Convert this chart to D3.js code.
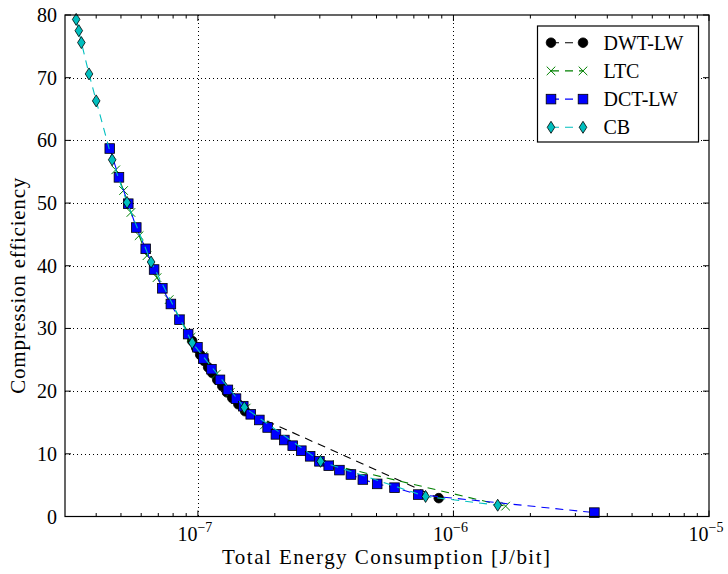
<!DOCTYPE html>
<html>
<head>
<meta charset="utf-8">
<script src="https://cdnjs.cloudflare.com/ajax/libs/d3/7.8.5/d3.min.js"></script>
<style>
    body { margin: 0; background: #fff; }
    svg text { font-family: "Liberation Serif", "Times New Roman", serif; fill: #000; }
    .tick-label { font-size: 20px; }
    .axis-label { font-size: 21px; }
    .legend-label { font-size: 20px; }
</style>
</head>
<body>
<div id="chart"></div>
<script>
// ---- data ----
var seriesNames = ['DWT-LW', 'LTC', 'DCT-LW', 'CB'];

var dwtEnergy = [9.50e-8, 9.85e-8, 1.021e-7, 1.059e-7, 1.097e-7, 1.138e-7, 1.19e-7, 1.245e-7, 1.30e-7, 1.363e-7, 1.44e-7, 1.53e-7, 8.76e-7];
var dwtEff    = [28.0, 26.9, 25.8, 24.8, 23.8, 22.9, 21.8, 20.8, 19.8, 18.9, 17.9, 16.8, 2.93];

var ltcEnergy = [4.77e-8, 5.12e-8, 5.47e-8, 5.89e-8, 6.32e-8, 6.92e-8, 7.72e-8, 8.52e-8, 9.41e-8, 1.049e-7, 1.18e-7, 1.339e-7, 1.546e-7, 1.82e-7, 3.27e-7, 1.60e-6];
var ltcEff    = [55.3, 52.0, 48.5, 44.8, 41.6, 38.1, 34.6, 31.5, 28.6, 25.6, 22.7, 19.8, 17.3, 14.6, 8.3, 1.65];

var dctEnergy = [4.52e-8, 4.91e-8, 5.34e-8, 5.74e-8, 6.25e-8, 6.74e-8, 7.26e-8, 7.84e-8, 8.47e-8, 9.16e-8,
                 9.96e-8, 1.05e-7, 1.13e-7, 1.22e-7, 1.31e-7, 1.41e-7, 1.505e-7, 1.61e-7, 1.74e-7, 1.875e-7,
                 2.02e-7, 2.18e-7, 2.35e-7, 2.54e-7, 2.75e-7, 2.99e-7, 3.25e-7, 3.58e-7, 3.97e-7, 4.42e-7,
                 5.03e-7, 5.88e-7, 7.28e-7, 3.56e-6];
var dctEff    = [58.7, 54.1, 49.9, 46.1, 42.7, 39.4, 36.4, 33.9, 31.4, 29.1,
                 27.0, 25.2, 23.5, 21.8, 20.2, 18.8, 17.6, 16.3, 15.4, 14.2,
                 13.1, 12.2, 11.3, 10.5, 9.6, 8.8, 8.1, 7.4, 6.7, 5.9,
                 5.2, 4.6, 3.5, 0.62];

var cbEnergy = [3.34e-8, 3.42e-8, 3.50e-8, 3.75e-8, 4.00e-8, 4.62e-8, 5.28e-8, 6.56e-8, 9.50e-8, 1.52e-7, 3.02e-7, 7.78e-7, 1.49e-6];
var cbEff    = [79.3, 77.5, 75.6, 70.6, 66.3, 56.9, 50.1, 40.6, 27.7, 17.4, 8.8, 3.2, 1.8];

var xDomain = [3.02e-8, 1e-5];
var yDomain = [0, 80];
var xTickValues = [1e-7, 1e-6, 1e-5];
var xTickExponents = ['\u22127', '\u22126', '\u22125'];
var yTickValues = [0, 10, 20, 30, 40, 50, 60, 70, 80];

var xLabel = 'Total Energy Consumption [J/bit]';
var yLabel = 'Compression efficiency';


EnergyChart = function(_parentElement) {
    this.parentElement = _parentElement;
    this.initVis();
};

EnergyChart.prototype.initVis = function() {
    var vis = this;

    vis.margin = { top: 15, right: 19, bottom: 57.5, left: 65 };
    vis.width = 728 - vis.margin.left - vis.margin.right;
    vis.height = 574 - vis.margin.top - vis.margin.bottom;

    vis.svg = d3.select('#' + vis.parentElement).append('svg')
        .attr('width', 728)
        .attr('height', 574)
        .append('g')
        .attr('transform', 'translate(' + vis.margin.left + ',' + vis.margin.top + ')');

    vis.x = d3.scaleLog().domain(xDomain).range([0, vis.width]);
    vis.y = d3.scaleLinear().domain(yDomain).range([vis.height, 0]);

    vis.line = d3.line()
        .x(function(d) { return vis.x(d.energy); })
        .y(function(d) { return vis.y(d.eff); });

    vis.wrangleData();
};

EnergyChart.prototype.wrangleData = function() {
    var vis = this;

    function zip(xs, ys) {
        return xs.map(function(v, i) { return { energy: v, eff: ys[i] }; });
    }

    vis.displayData = [
        { name: seriesNames[0], color: '#000000', marker: 'circle',  values: zip(dwtEnergy, dwtEff) },
        { name: seriesNames[1], color: '#008000', marker: 'x',       values: zip(ltcEnergy, ltcEff) },
        { name: seriesNames[2], color: '#0000ff', marker: 'square',  values: zip(dctEnergy, dctEff) },
        { name: seriesNames[3], color: '#00bfbf', marker: 'diamond', values: zip(cbEnergy, cbEff) }
    ];

    vis.updateVis();
};

// draws one marker of the given kind into a selection of groups
EnergyChart.prototype.drawMarker = function(sel, s) {
    if (s.marker === 'circle') {
        sel.append('circle').attr('r', 4.8)
            .attr('fill', s.color).attr('stroke', '#000').attr('stroke-width', 0.8);
    } else if (s.marker === 'square') {
        sel.append('rect').attr('x', -4.8).attr('y', -4.8).attr('width', 9.6).attr('height', 9.6)
            .attr('fill', s.color).attr('stroke', '#000').attr('stroke-width', 0.8);
    } else if (s.marker === 'diamond') {
        sel.append('path').attr('d', 'M0,-6L3.8,0L0,6L-3.8,0Z')
            .attr('fill', s.color).attr('stroke', '#000').attr('stroke-width', 0.8);
    } else {
        sel.append('path').attr('d', 'M-4.3,-4.3L4.3,4.3M-4.3,4.3L4.3,-4.3')
            .attr('fill', 'none').attr('stroke', s.color).attr('stroke-width', 1);
    }
};

EnergyChart.prototype.updateVis = function() {
    var vis = this;

    // grid
    var grid = vis.svg.append('g').attr('class', 'grid')
        .attr('stroke', '#000').attr('stroke-width', 1).attr('stroke-dasharray', '1,3');
    grid.selectAll('.gx').data(xTickValues.slice(0, 2)).enter().append('line')
        .attr('x1', function(d) { return Math.round(vis.x(d)) + 0.5; })
        .attr('x2', function(d) { return Math.round(vis.x(d)) + 0.5; })
        .attr('y1', 0).attr('y2', vis.height);
    grid.selectAll('.gy').data(yTickValues.slice(1, -1)).enter().append('line')
        .attr('x1', 0).attr('x2', vis.width)
        .attr('y1', function(d) { return Math.round(vis.y(d)) + 0.5; })
        .attr('y2', function(d) { return Math.round(vis.y(d)) + 0.5; });

    // series lines then markers
    vis.displayData.forEach(function(s) {
        vis.svg.append('path')
            .datum(s.values)
            .attr('class', 'series-line')
            .attr('fill', 'none')
            .attr('stroke', s.color)
            .attr('stroke-width', 1.1)
            .attr('stroke-dasharray', '8,6')
            .attr('d', vis.line);

        var pts = vis.svg.append('g').selectAll('.pt')
            .data(s.values).enter().append('g')
            .attr('transform', function(d) { return 'translate(' + vis.x(d.energy) + ',' + vis.y(d.eff) + ')'; });
        vis.drawMarker(pts, s);
    });

    // minor ticks on the log axis
    var minorTicks = vis.x.ticks().filter(function(d) {
        var m = d / Math.pow(10, Math.floor(Math.log10(d) + 1e-9));
        return Math.abs(m - 1) > 1e-6 && d >= xDomain[0] && d <= xDomain[1];
    });

    var ticks = vis.svg.append('g').attr('stroke', '#000').attr('stroke-width', 1);
    [0, vis.height].forEach(function(yy, k) {
        var dir = k === 0 ? 1 : -1;
        ticks.selectAll(null).data(minorTicks).enter().append('line')
            .attr('x1', function(d) { return vis.x(d); }).attr('x2', function(d) { return vis.x(d); })
            .attr('y1', yy).attr('y2', yy + dir * 3.5);
        ticks.selectAll(null).data(xTickValues).enter().append('line')
            .attr('x1', function(d) { return vis.x(d); }).attr('x2', function(d) { return vis.x(d); })
            .attr('y1', yy).attr('y2', yy + dir * 6);
    });
    [0, vis.width].forEach(function(xx, k) {
        var dir = k === 0 ? 1 : -1;
        ticks.selectAll(null).data(yTickValues).enter().append('line')
            .attr('x1', xx).attr('x2', xx + dir * 6)
            .attr('y1', function(d) { return vis.y(d); }).attr('y2', function(d) { return vis.y(d); });
    });

    // frame
    vis.svg.append('rect')
        .attr('width', vis.width).attr('height', vis.height)
        .attr('fill', 'none').attr('stroke', '#000').attr('stroke-width', 1.2);

    // tick labels
    vis.svg.selectAll('.ylab').data(yTickValues).enter().append('text')
        .attr('class', 'tick-label')
        .attr('x', -8)
        .attr('y', function(d) { return vis.y(d); })
        .attr('dy', '0.35em')
        .attr('text-anchor', 'end')
        .text(function(d) { return d; });

    var xl = vis.svg.selectAll('.xlab').data(xTickValues).enter().append('text')
        .attr('class', 'tick-label')
        .attr('x', function(d) { return vis.x(d) - 3; })
        .attr('y', vis.height + 24)
        .attr('text-anchor', 'middle');
    xl.append('tspan').text('10');
    xl.append('tspan')
        .attr('dy', -9)
        .style('font-size', '14px')
        .text(function(d, i) { return xTickExponents[i]; });

    // axis labels (stretched a little, the original font is wider)
    vis.svg.append('text')
        .attr('class', 'axis-label')
        .attr('x', vis.width / 2 - 1)
        .attr('y', vis.height + 47)
        .attr('text-anchor', 'middle')
        .attr('textLength', 328)
        .attr('lengthAdjust', 'spacing')
        .text(xLabel);

    vis.svg.append('text')
        .attr('class', 'axis-label')
        .attr('transform', 'translate(' + (-40) + ',' + (vis.height / 2 + 20) + ') rotate(-90)')
        .attr('text-anchor', 'middle')
        .attr('textLength', 216)
        .attr('lengthAdjust', 'spacing')
        .text(yLabel);

    // legend
    var legend = vis.svg.append('g')
        .attr('transform', 'translate(' + (537.5 - vis.margin.left) + ',' + (26 - vis.margin.top) + ')');
    legend.append('rect')
        .attr('width', 161).attr('height', 116)
        .attr('fill', '#fff').attr('stroke', '#000').attr('stroke-width', 1.2);

    var rows = legend.selectAll('.legend-row').data(vis.displayData).enter().append('g')
        .attr('class', 'legend-row')
        .attr('transform', function(d, i) { return 'translate(0,' + (16.7 + i * 28.2) + ')'; });

    rows.append('line')
        .attr('x1', 13.5).attr('x2', 45.5)
        .attr('stroke', function(d) { return d.color; })
        .attr('stroke-width', 1.1)
        .attr('stroke-dasharray', '8,6');

    rows.each(function(s) {
        var row = d3.select(this);
        [13.5, 45.5].forEach(function(px) {
            vis.drawMarker(row.append('g').attr('transform', 'translate(' + px + ',0)'), s);
        });
    });

    rows.append('text')
        .attr('class', 'legend-label')
        .attr('x', 66)
        .attr('dy', '0.35em')
        .text(function(d) { return d.name; });
};

var chart = new EnergyChart('chart');
</script>
</body>
</html>
